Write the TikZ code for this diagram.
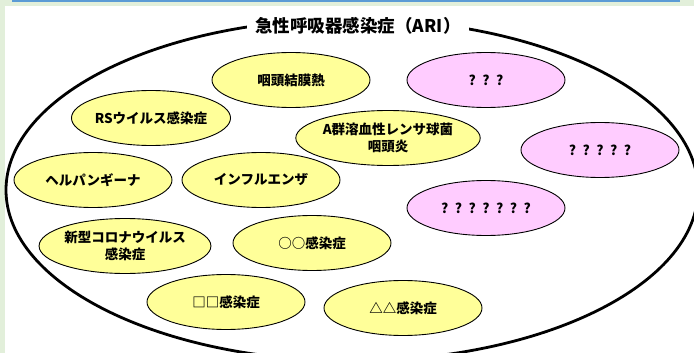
\documentclass[tikz,border=0pt]{standalone}
\usepackage{fontspec}
\setmainfont{Noto Sans CJK JP}
\usetikzlibrary{shapes.geometric}
\definecolor{bggreen}{HTML}{E2EFDA}
\definecolor{barblue}{HTML}{5B9BD5}
\definecolor{ylw}{HTML}{FFFF99}
\definecolor{pnk}{HTML}{FFCCFF}
\newcommand{\qq}{?\hspace{6.5pt}}
\tikzset{
  dis/.style={ellipse, draw=black, line width=0.9pt, minimum width=158pt, minimum height=55pt,
    inner sep=0pt, align=center, font=\fontsize{13.5}{16.5}\selectfont\bfseries},
  known/.style={dis, fill=ylw},
  unknown/.style={dis, fill=pnk},
}
\begin{document}
\begin{tikzpicture}[x=1pt,y=-1pt]
\useasboundingbox (0,0) rectangle (694,353);
\clip (0,0) rectangle (694,353);
\fill[bggreen] (0,0) rectangle (694,353);
\fill[barblue] (12,-10) rectangle (680,2.2);
\fill[white] (5,6) rectangle (700,360);
\node[draw=black, line width=2.8pt, ellipse, minimum width=692pt, minimum height=342pt, inner sep=0pt] (ari) at (352,190) {};
\node[fill=white, inner xsep=8pt, inner ysep=2pt, font=\fontsize{17.5}{20}\selectfont\bfseries] (title) at (358,26) {急性呼吸器感染症（ARI）};
\node[known] (pcf) at (291,80) {咽頭結膜熱};
\node[known] (rs) at (151,118) {RSウイルス感染症};
\node[known] (herp) at (93,180) {ヘルパンギーナ};
\node[known] (flu) at (261,180) {インフルエンザ};
\node[known] (gas) at (388,138) {A群溶血性レンサ球菌\\咽頭炎};
\node[known] (covid) at (125,246) {新型コロナウイルス\\感染症};
\node[known] (oo) at (312,243) {○○感染症};
\node[known] (sq) at (226,302) {□□感染症};
\node[known] (tri) at (403,308) {△△感染症};
\node[unknown] (u1) at (486,80) {\qq\qq?};
\node[unknown] (u2) at (600,150) {\qq\qq\qq\qq?};
\node[unknown] (u3) at (486,208) {\qq\qq\qq\qq\qq\qq?};
\end{tikzpicture}
\end{document}
